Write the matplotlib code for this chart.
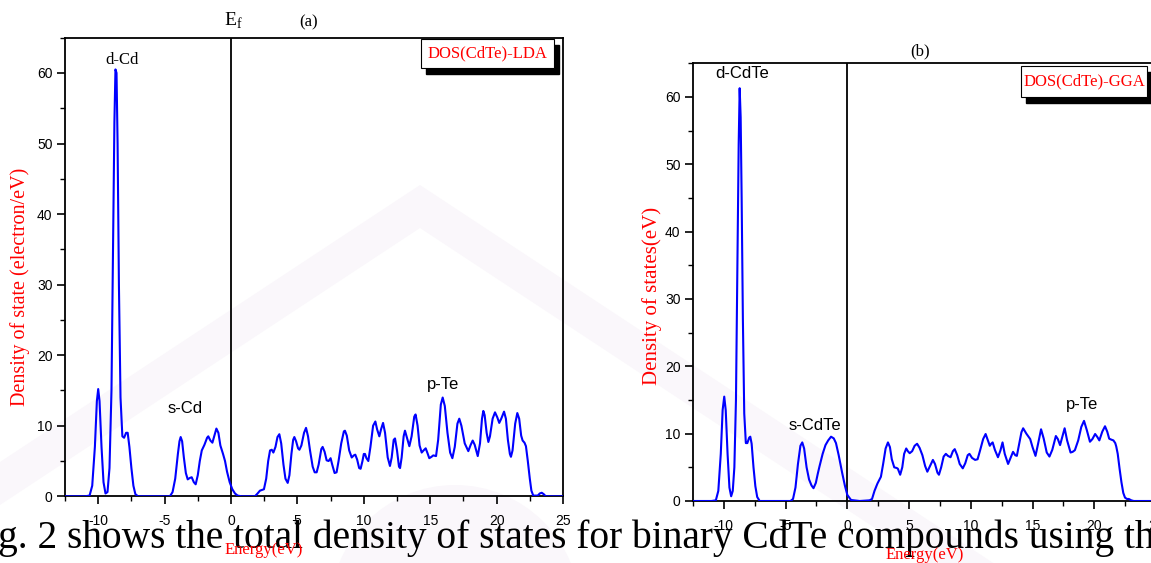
import matplotlib
matplotlib.use('Agg')
import matplotlib.pyplot as plt
from matplotlib.patches import Polygon, Rectangle, Circle
from matplotlib.ticker import MultipleLocator

plt.rcParams['font.family'] = 'Liberation Sans'
plt.rcParams['axes.unicode_minus'] = False

# ---- data: (energy eV, DOS) ----
# (a) LDA total DOS
lda = [(-12.5, 0), (-11.0, 0), (-10.65, 0.1), (-10.45, 1.5), (-10.25, 7), (-10.1, 13.5), (-10.0, 15.2),
       (-9.9, 13.5), (-9.75, 7), (-9.6, 2), (-9.45, 0.4), (-9.3, 0.6), (-9.15, 4), (-9.0, 15),
       (-8.88, 35), (-8.78, 53), (-8.7, 60.5), (-8.62, 60), (-8.54, 50), (-8.44, 30), (-8.32, 14),
       (-8.18, 8.5), (-8.05, 8.3), (-7.9, 9.0), (-7.78, 9.0), (-7.65, 7), (-7.5, 4), (-7.35, 1.5),
       (-7.2, 0.3), (-7.0, 0), (-4.6, 0), (-4.4, 0.6), (-4.2, 2.5), (-4.0, 6), (-3.88, 7.8),
       (-3.79, 8.4), (-3.68, 7.8), (-3.55, 5.5), (-3.4, 3.3), (-3.26, 2.4), (-3.1, 2.6), (-2.96, 2.7),
       (-2.8, 2.0), (-2.66, 1.7), (-2.5, 3), (-2.35, 5), (-2.2, 6.5), (-2.0, 7.3), (-1.8, 8.3),
       (-1.71, 8.5), (-1.55, 7.9), (-1.4, 7.6), (-1.25, 8.6), (-1.1, 9.6), (-0.95, 9.0), (-0.8, 7.2),
       (-0.6, 6.0), (-0.45, 5), (-0.3, 3.5), (-0.1, 2.0), (0.1, 1.0), (0.3, 0.4), (0.5, 0.1),
       (0.8, 0), (1.8, 0), (2.0, 0.4), (2.18, 0.8), (2.48, 1.0), (2.65, 2.5), (2.8, 5), (2.94, 6.5),
       (3.07, 6.6), (3.19, 6.2), (3.35, 7), (3.5, 8.4), (3.64, 8.8), (3.78, 7.5), (3.95, 4.5),
       (4.1, 2.5), (4.27, 1.9), (4.4, 3), (4.55, 6), (4.68, 8), (4.77, 8.4), (4.9, 7.8), (5.05, 6.8),
       (5.15, 6.6), (5.3, 7.2), (5.5, 9), (5.65, 9.7), (5.8, 8.5), (5.95, 6.5), (6.15, 4.2),
       (6.3, 3.4), (6.45, 3.4), (6.6, 4.5), (6.8, 6.7), (6.9, 7.0), (7.05, 6.3), (7.2, 5.1),
       (7.35, 5.0), (7.5, 5.4), (7.62, 4.5), (7.8, 3.3), (7.95, 3.4), (8.1, 5), (8.3, 7.5),
       (8.5, 9.2), (8.58, 9.3), (8.72, 8.6), (8.9, 6.5), (9.09, 5.5), (9.25, 5.8), (9.36, 5.9),
       (9.5, 5.2), (9.65, 4.0), (9.76, 3.9), (9.9, 5), (10.0, 6.0), (10.09, 6.0), (10.2, 5.4),
       (10.34, 5.0), (10.5, 7), (10.7, 10), (10.87, 10.6), (11.0, 9.5), (11.17, 8.5), (11.3, 9.5),
       (11.45, 10.4), (11.6, 9), (11.8, 5.5), (11.97, 4.3), (12.1, 5.5), (12.25, 8.0), (12.35, 8.2),
       (12.5, 6.5), (12.65, 4.2), (12.73, 4.0), (12.85, 5.5), (13.0, 8.5), (13.1, 9.3), (13.25, 8.3),
       (13.43, 7.1), (13.6, 8.5), (13.8, 11.3), (13.9, 11.6), (14.05, 10), (14.2, 7.2), (14.36, 6.2),
       (14.5, 6.5), (14.66, 6.8), (14.8, 6.1), (14.93, 5.4), (15.1, 5.6), (15.23, 5.8), (15.44, 5.7),
       (15.6, 8), (15.8, 13), (15.94, 14.0), (16.1, 12.8), (16.3, 9), (16.5, 6.2), (16.67, 5.4),
       (16.85, 7), (17.05, 10.3), (17.19, 11.0), (17.35, 10), (17.6, 7.5), (17.87, 6.4), (18.05, 7.3),
       (18.2, 7.9), (18.35, 7.3), (18.58, 5.7), (18.75, 7.5), (18.9, 11), (19.0, 12.1), (19.1, 11.5),
       (19.25, 9), (19.38, 7.7), (19.5, 8.5), (19.7, 11), (19.88, 11.9), (20.05, 11.2), (20.2, 10.4),
       (20.35, 11), (20.56, 12.0), (20.7, 11), (20.85, 8), (21.0, 6), (21.08, 5.6), (21.2, 6.5),
       (21.4, 10.3), (21.56, 11.8), (21.7, 11), (21.85, 8.6), (21.96, 7.9), (22.1, 7.6), (22.21, 7.1),
       (22.35, 5), (22.5, 2.5), (22.62, 0.8), (22.76, 0.1), (23.1, 0.1), (23.25, 0.4), (23.4, 0.5),
       (23.55, 0.3), (23.7, 0), (25.0, 0)]

# (b) GGA total DOS
gga = [(-12.5, 0), (-11.0, 0), (-10.65, 0.1), (-10.45, 1.5), (-10.25, 7), (-10.1, 13.5), (-9.97, 15.5),
       (-9.85, 13.5), (-9.7, 7), (-9.55, 2), (-9.41, 0.7), (-9.28, 1.5), (-9.15, 5), (-9.02, 15),
       (-8.9, 35), (-8.8, 53), (-8.72, 61.3), (-8.64, 57), (-8.56, 45), (-8.46, 27), (-8.35, 13),
       (-8.22, 8.6), (-8.1, 8.6), (-7.95, 9.4), (-7.86, 9.55), (-7.75, 8.5), (-7.6, 5), (-7.45, 2.2),
       (-7.3, 0.6), (-7.1, 0), (-4.6, 0), (-4.4, 0.3), (-4.2, 2), (-4.0, 5.5), (-3.8, 8.2),
       (-3.65, 8.7), (-3.5, 7.8), (-3.3, 5), (-3.1, 3.2), (-2.9, 2.3), (-2.74, 1.9), (-2.55, 2.7),
       (-2.4, 4), (-2.26, 5.1), (-2.0, 7), (-1.77, 8.3), (-1.55, 9.0), (-1.32, 9.55), (-1.1, 9.3),
       (-0.92, 8.6), (-0.7, 6.8), (-0.41, 4.1), (-0.2, 2.3), (0.0, 0.9), (0.3, 0.15), (1.0, 0),
       (1.8, 0.1), (2.0, 0.3), (2.2, 1.5), (2.44, 2.6), (2.72, 3.6), (2.9, 5.5), (3.1, 7.8),
       (3.29, 8.7), (3.45, 8), (3.6, 6.2), (3.8, 5.0), (4.0, 4.9), (4.09, 4.8), (4.28, 3.9),
       (4.45, 5), (4.6, 7), (4.77, 7.8), (4.9, 7.4), (5.05, 7.1), (5.25, 7.4), (5.45, 8.2),
       (5.65, 8.5), (5.85, 7.9), (6.08, 6.8), (6.3, 5.2), (6.48, 4.35), (6.7, 5.2), (6.93, 6.1),
       (7.1, 5.5), (7.3, 4.2), (7.42, 3.9), (7.6, 5), (7.8, 6.6), (7.98, 7.0), (8.15, 6.7),
       (8.36, 6.5), (8.55, 7.4), (8.7, 7.7), (8.9, 6.8), (9.1, 5.5), (9.35, 4.85), (9.55, 5.6),
       (9.75, 6.8), (9.89, 7.0), (10.1, 6.4), (10.35, 6.1), (10.55, 6.2), (10.75, 7.5), (11.0, 9.2),
       (11.2, 9.95), (11.38, 9), (11.54, 8.2), (11.65, 8.5), (11.77, 8.7), (11.95, 7.6), (12.2, 6.5),
       (12.4, 7.5), (12.57, 8.7), (12.75, 7), (13.02, 5.5), (13.2, 6.3), (13.42, 7.3), (13.6, 6.8),
       (13.73, 6.7), (13.95, 8.8), (14.1, 10.2), (14.24, 10.8), (14.5, 10), (14.81, 9.2), (15.0, 8),
       (15.24, 6.7), (15.45, 8.5), (15.69, 10.65), (15.9, 9.3), (16.15, 7.2), (16.37, 6.6),
       (16.6, 7.6), (16.89, 9.65), (17.05, 9.2), (17.23, 8.3), (17.42, 9.6), (17.6, 10.8), (17.8, 9),
       (18.08, 7.2), (18.25, 7.3), (18.43, 7.55), (18.7, 9), (18.95, 11), (19.17, 11.9), (19.4, 10.5),
       (19.65, 8.8), (19.85, 9.2), (20.07, 9.95), (20.25, 9.5), (20.41, 9.0), (20.65, 10.3),
       (20.87, 11.1), (21.05, 10.3), (21.21, 9.25), (21.4, 9.1), (21.55, 9.0), (21.7, 8.6),
       (21.78, 8.1), (21.9, 7), (22.05, 4.8), (22.2, 2.8), (22.35, 1.2), (22.49, 0.5), (22.65, 0.3),
       (22.8, 0.3), (23.0, 0.1), (23.2, 0), (25.0, 0)]

e_lda, dos_lda = zip(*lda)
e_gga, dos_gga = zip(*gga)

xticks = [-10, -5, 0, 5, 10, 15, 20, 25]
yticks = [0, 10, 20, 30, 40, 50, 60]

W, H = 1151, 563
fig = plt.figure(figsize=(W/100, H/100), dpi=100)
fig.patch.set_facecolor('white')

# faint watermark of the page behind the figure
wm = '#faf7fb'
fig.add_artist(Polygon([(0, H-462), (420, H-185), (1151, H-667), (1151, H-710), (420, H-228), (0, H-505)],
                       closed=True, transform=None, facecolor=wm, edgecolor='none', zorder=-10))
fig.add_artist(Circle((455, H-610), 125, transform=None, facecolor=wm, edgecolor='none', zorder=-10))


def panel(rect, e, d, labels, boxrect, boxtxt):
    ax = fig.add_axes(rect)
    ax.set_facecolor('none')
    ax.plot(e, d, color='#0000ff', lw=1.5, zorder=3)
    ax.axvline(0, color='black', lw=1.3, zorder=2)
    ax.set_xlim(-12.5, 25)
    ax.set_ylim(0, 65)
    ax.set_xticks(xticks)
    ax.set_yticks(yticks)
    ax.xaxis.set_minor_locator(MultipleLocator(2.5))
    ax.yaxis.set_minor_locator(MultipleLocator(5))
    ax.tick_params(which='major', direction='out', length=6, width=1.2, labelsize=10)
    ax.tick_params(axis='x', which='major', pad=7)
    ax.tick_params(axis='y', which='major', pad=3)
    ax.tick_params(which='minor', direction='out', length=3.5, width=1.0)
    for s in ax.spines.values():
        s.set_linewidth(1.3)
    for txt, x, y, fam in labels:
        ax.text(x, y, txt, ha='center', va='center', fontsize=12, family=fam, color='black')
    x0, y0, x1, y1 = boxrect
    dx = 5 / (rect[2] * W)
    dy = 6 / (rect[3] * H)
    ax.add_patch(Rectangle((x0 + dx, y0 - dy), x1 - x0, y1 - y0, transform=ax.transAxes,
                           facecolor='black', edgecolor='black', clip_on=False, zorder=5))
    ax.add_patch(Rectangle((x0, y0), x1 - x0, y1 - y0, transform=ax.transAxes,
                           facecolor='white', edgecolor='black', lw=0.8, clip_on=False, zorder=6))
    ax.text((x0 + x1)/2, (y0 + y1)/2, boxtxt, transform=ax.transAxes, ha='center', va='center',
            fontsize=12, family='Liberation Serif', color='red', zorder=7)
    return ax


axa = panel([65/W, 1 - 496.3/H, 498/W, 458.6/H], e_lda, dos_lda,
            [('d-Cd', -8.2, 61.9, 'Liberation Serif'), ('s-Cd', -3.46, 12.5, 'Liberation Sans'),
             ('p-Te', 15.96, 15.8, 'Liberation Sans')],
            (0.715, 0.934, 0.982, 0.997), 'DOS(CdTe)-LDA')
axb = panel([693/W, 1 - 501/H, 463/W, 437.7/H], e_gga, dos_gga,
            [('d-CdTe', -8.54, 63.5, 'Liberation Sans'), ('s-CdTe', -2.59, 11.2, 'Liberation Sans'),
             ('p-Te', 19.03, 14.3, 'Liberation Sans')],
            (0.708, 0.922, 0.981, 0.9945), 'DOS(CdTe)-GGA')

# titles, Fermi level, axis labels
fig.text(309/W, 1 - 22/H, '(a)', ha='center', va='center', fontsize=12, family='Liberation Serif')
fig.text(920/W, 1 - 51/H, '(b)', ha='center', va='center', fontsize=12, family='Liberation Serif')
fig.text(233/W, 1 - 21/H, r'E$_{\mathregular{f}}$', ha='center', va='center', fontsize=14,
         family='Liberation Serif')
fig.text(20/W, 1 - 287/H, 'Density of state (electron/eV)', rotation=90, ha='center', va='center',
         fontsize=14.5, family='Liberation Serif', color='red')
fig.text(652/W, 1 - 296/H, 'Density of states(eV)', rotation=90, ha='center', va='center',
         fontsize=15, family='Liberation Serif', color='red')

# body text of the page behind the figure
body = 'g. 2 shows the total density of states for binary CdTe compounds using th'
t = fig.text(-2/W, 1 - 548/H, body, ha='left', va='baseline', fontsize=25,
             family='Liberation Serif', color='black', zorder=1)
fig.canvas.draw()
bb = t.get_window_extent()
t.set_fontsize(25 * 1160 / bb.width)

fig.text(264/W, 1 - 550/H, 'Energy(eV)', ha='center', va='center', fontsize=12,
         family='Liberation Serif', color='red', zorder=5)
fig.text(925/W, 1 - 555/H, 'Energy(eV)', ha='center', va='center', fontsize=12,
         family='Liberation Serif', color='red', zorder=5)

fig.savefig('out.png', dpi=100)
